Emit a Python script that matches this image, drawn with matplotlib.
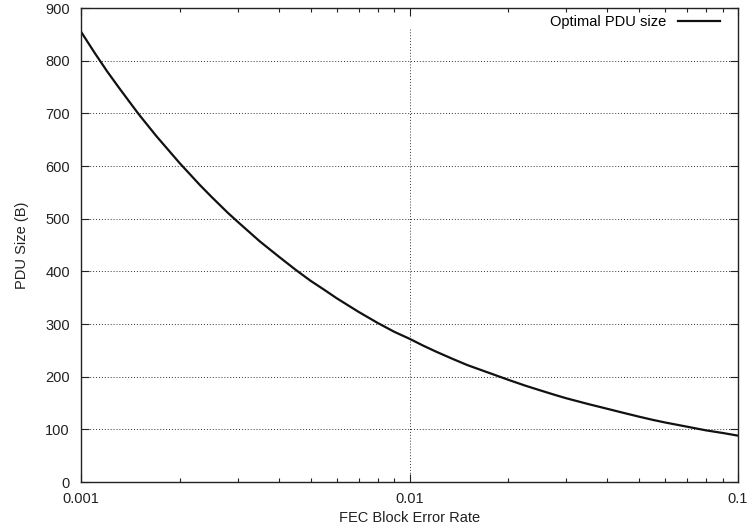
import matplotlib
matplotlib.use("Agg")
import matplotlib.pyplot as plt
from matplotlib.ticker import FixedLocator, NullFormatter

plt.rcParams['font.family'] = ['Liberation Sans', 'DejaVu Sans']

# values
error_rate = [0.001, 0.0011, 0.0012, 0.0013, 0.0014, 0.0015, 0.0017, 0.002, 0.0023,
              0.0025, 0.0028, 0.003, 0.0035, 0.004, 0.0045, 0.005, 0.0055, 0.006,
              0.007, 0.008, 0.009, 0.01, 0.011, 0.012, 0.0135, 0.015, 0.0175, 0.02,
              0.0225, 0.025, 0.0275, 0.03, 0.035, 0.04, 0.045, 0.05, 0.055, 0.06,
              0.07, 0.08, 0.09, 0.1]
pdu_size = [855, 815, 780, 750, 723, 698, 656, 605, 564,
            541, 511, 494, 457, 428, 403, 382, 365, 349,
            323, 302, 285, 272, 259, 248, 234, 222, 207, 194,
            183, 174, 166, 159, 148, 139, 131, 124, 118, 113,
            105, 98, 93, 88]

xticks = [0.001, 0.01, 0.1]
xticklabels = ["0.001", "0.01", "0.1"]
yticks = list(range(0, 901, 100))

fig = plt.figure(figsize=(7.52, 5.32), dpi=100)
ax = fig.add_axes([81 / 752, 1 - 482 / 532, 657 / 752, 474 / 532])

ax.plot(error_rate, pdu_size, color="#111111", lw=1.6, label="Optimal PDU size")

ax.set_xscale("log")
ax.set_xlim(0.001, 0.1)
ax.set_ylim(0, 900)
ax.set_xticks(xticks)
ax.set_xticklabels(xticklabels)
ax.set_yticks(yticks)
ax.xaxis.set_minor_locator(FixedLocator(
    [m * d for d in (0.001, 0.01) for m in range(2, 10)]))
ax.xaxis.set_minor_formatter(NullFormatter())

ax.tick_params(which="both", direction="in", top=True, right=True,
               labelsize=10.5, colors="#222222", width=0.8)
ax.tick_params(which="major", length=6)
ax.tick_params(axis="x", pad=7)
ax.tick_params(axis="y", pad=8)
ax.tick_params(which="minor", length=3)

for y in yticks[1:-1]:
    ax.axhline(y, color="#333333", lw=0.7, ls=(0, (1, 2)), zorder=0)
ax.axvline(0.01, ymax=0.955, color="#333333", lw=0.7, ls=(0, (1, 2)), zorder=0)

for s in ax.spines.values():
    s.set_linewidth(1.0)
    s.set_color("#222222")

ax.set_xlabel("FEC Block Error Rate", fontsize=10.5, color="#222222", labelpad=4)
ax.set_ylabel("PDU Size (B)", fontsize=10.5, color="#222222", labelpad=12)

ax.legend(loc="upper right", bbox_to_anchor=(0.982, 0.998), frameon=False,
          markerfirst=False, fontsize=10.5, handlelength=2.9,
          borderaxespad=0, handletextpad=0.8)

fig.savefig("out.png", dpi=100)
